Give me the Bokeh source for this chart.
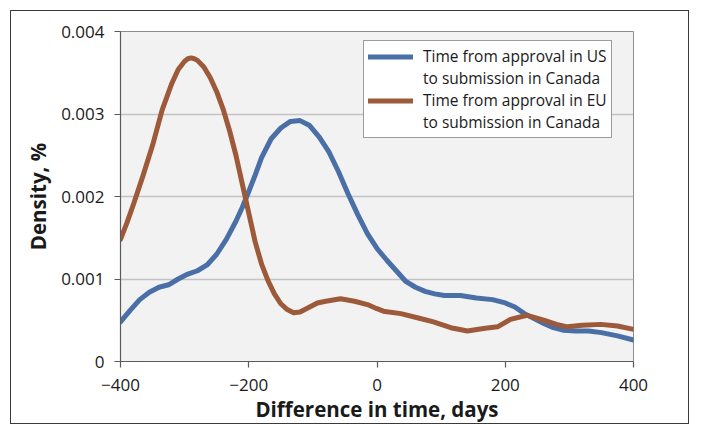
from bokeh.plotting import figure
from bokeh.models import Range1d, FixedTicker, Legend, LegendItem
from bokeh.embed import file_html
from bokeh.resources import INLINE

# ---- data ----
us_days = [-400, -385, -370, -355, -340, -325, -310, -295, -280, -265, -250, -235, -220, -210,
           -200, -190, -180, -165, -150, -135, -120, -105, -90, -75, -60, -45, -30, -15, 0,
           15, 30, 45, 60, 75, 90, 105, 130, 155, 180, 200, 215, 230, 245, 260, 275, 290,
           310, 330, 350, 375, 400]
us_density = [0.00048, 0.00062, 0.00075, 0.00084, 0.00090, 0.00093, 0.00100, 0.00106, 0.00110,
              0.00117, 0.00130, 0.00148, 0.00170, 0.00187, 0.00206, 0.00226, 0.00247, 0.00270,
              0.00283, 0.00291, 0.00292, 0.00286, 0.00272, 0.00254, 0.00230, 0.00203, 0.00178,
              0.00155, 0.00137, 0.00123, 0.00110, 0.00097, 0.00090, 0.00085, 0.00082, 0.00080,
              0.00080, 0.00077, 0.00075, 0.00071, 0.00066, 0.00058, 0.00052, 0.00046, 0.00041,
              0.00038, 0.00037, 0.00037, 0.00035, 0.00031, 0.00026]

eu_days = [-400, -390, -380, -365, -350, -335, -320, -310, -300, -295, -290, -285, -280, -270,
           -260, -250, -240, -230, -220, -210, -200, -190, -180, -170, -160, -150, -140, -130,
           -120, -105, -93, -80, -57, -35, -15, 0, 10, 37, 63, 88, 115, 141, 166, 188, 208,
           234, 260, 280, 297, 320, 349, 375, 400]
eu_density = [0.00148, 0.00168, 0.00190, 0.00225, 0.00262, 0.00305, 0.00337, 0.00354, 0.00364,
              0.00367, 0.00368, 0.00367, 0.00365, 0.00357, 0.00344, 0.00327, 0.00306, 0.00280,
              0.00250, 0.00215, 0.00180, 0.00145, 0.00118, 0.00098, 0.00082, 0.00070, 0.00063,
              0.00059, 0.00060, 0.00066, 0.00071, 0.00073, 0.00076, 0.00073, 0.00069, 0.00064,
              0.00061, 0.00058, 0.00053, 0.00048, 0.00041, 0.00037, 0.00040, 0.00042, 0.00051,
              0.00056, 0.00050, 0.00045, 0.00042, 0.00044, 0.00045, 0.00043, 0.00039]

x_ticks = [-400, -200, 0, 200, 400]
y_ticks = [0, 0.001, 0.002, 0.003, 0.004]
y_tick_labels = {0: "0", 0.001: "0.001", 0.002: "0.002", 0.003: "0.003", 0.004: "0.004"}

legend_lines = [
    ["Time from approval in US", "to submission in Canada"],
    ["Time from approval in EU", "to submission in Canada"],
]

FONT = "Open Sans"
BLUE = "#4A6FA7"
BROWN = "#9D5A3A"

# outer chart frame painted as CSS background lines behind a transparent canvas border
FRAME = "#3a3a3a"
g = f"linear-gradient({FRAME},{FRAME})"
frame_bg = ", ".join([
    f"{g} 10px 10px / 679px 1px no-repeat",
    f"{g} 10px 423px / 679px 1px no-repeat",
    f"{g} 10px 10px / 1px 414px no-repeat",
    f"{g} 688px 10px / 1px 414px no-repeat",
    "white",
])

p = figure(width=690, height=425, output_backend="svg", toolbar_location=None,
           x_range=Range1d(-400, 400), y_range=Range1d(0, 0.004),
           min_border_left=120, min_border_right=57, min_border_top=31, min_border_bottom=64,
           background_fill_color="#F2F2F2", border_fill_alpha=0,
           styles={"background": frame_bg})

p.outline_line_color = "#8C8C8C"
p.outline_line_width = 1

p.xgrid.grid_line_color = None
p.ygrid.grid_line_color = "#C3C3C3"
p.ygrid.grid_line_width = 1.5

p.xaxis.ticker = FixedTicker(ticks=x_ticks)
p.yaxis.ticker = FixedTicker(ticks=y_ticks)
p.yaxis.major_label_overrides = y_tick_labels
for ax in (p.xaxis[0], p.yaxis[0]):
    ax.axis_line_color = "#5A5A5A"
    ax.axis_line_width = 1.2
    ax.major_tick_line_color = "#5A5A5A"
    ax.major_tick_line_width = 1.2
    ax.major_tick_out = 6
    ax.major_tick_in = 0
    ax.minor_tick_line_color = None
    ax.major_label_text_font = FONT
    ax.major_label_text_font_size = "17px"
    ax.major_label_text_color = "#1a1a1a"
    ax.axis_label_text_font = FONT
    ax.axis_label_text_font_size = "20.5px"
    ax.axis_label_text_font_style = "bold"
    ax.axis_label_text_color = "#1a1a1a"

p.xaxis.axis_label = "Difference in time, days"
p.xaxis.major_label_standoff = 11
p.xaxis.axis_label_standoff = 1
p.yaxis.axis_label = "Density, %"
p.yaxis.major_label_standoff = 10
p.yaxis.axis_label_standoff = 6

r_us = p.line(us_days, us_density, line_color=BLUE, line_width=5, line_join="round", line_cap="round")
r_eu = p.line(eu_days, eu_density, line_color=BROWN, line_width=5, line_join="round", line_cap="round")
r_blank = p.line(x=[], y=[], line_alpha=0)

items = [
    LegendItem(label=legend_lines[0][0], renderers=[r_us]),
    LegendItem(label=legend_lines[0][1], renderers=[r_blank]),
    LegendItem(label=legend_lines[1][0], renderers=[r_eu]),
    LegendItem(label=legend_lines[1][1], renderers=[r_blank]),
]
legend = Legend(items=items, location=(243, 223),
                label_text_font=FONT, label_text_font_size="15.5px", label_text_color="#1a1a1a",
                label_height=19, glyph_height=19, glyph_width=45, label_standoff=10,
                spacing=0, padding=4, margin=0,
                border_line_color="#3a3a3a", border_line_width=1,
                background_fill_color="white", background_fill_alpha=1)
p.add_layout(legend, "center")

open("out.html", "w").write(file_html(p, INLINE))
